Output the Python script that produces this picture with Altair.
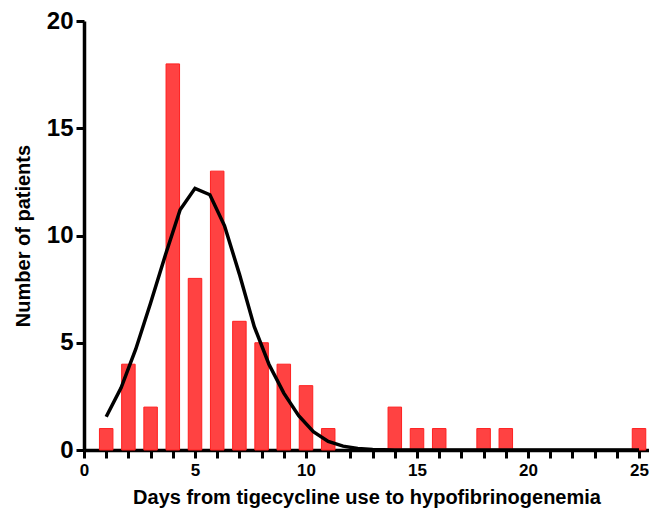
import altair as alt
import pandas as pd

# Histogram bars: days vs number of patients
days = [1, 2, 3, 4, 5, 6, 7, 8, 9, 10, 11, 14, 15, 16, 18, 19, 25]
patients = [1, 4, 2, 18, 8, 13, 6, 5, 4, 3, 1, 2, 1, 1, 1, 1, 1]

# Fitted curve
curve_x = [1, 1.67, 2.33, 3, 3.67, 4.33, 5, 5.67, 6.33, 7, 7.67, 8.33, 9,
           9.67, 10.33, 11, 11.67, 12.33, 13, 14, 15, 17, 19, 21, 23, 25]
curve_y = [1.55, 2.9, 4.7, 6.85, 9.1, 11.2, 12.2, 11.9, 10.45, 8.2, 5.75, 4.0,
           2.65, 1.6, 0.85, 0.4, 0.18, 0.07, 0.02, 0, 0, 0, 0, 0, 0, 0]

x_ticks = list(range(0, 26))
y_ticks = [0, 5, 10, 15, 20]

bars_df = pd.DataFrame({"day": days, "n": patients})
curve_df = pd.DataFrame({"day": curve_x, "n": curve_y})

FONT = "Liberation Sans"

x_enc = alt.X(
    "day:Q",
    scale=alt.Scale(domain=[0, 25.45], nice=False, zero=False, padding=0),
    axis=alt.Axis(
        title="Days from tigecycline use to hypofibrinogenemia",
        values=x_ticks,
        labelExpr="datum.value % 5 == 0 ? datum.label : ''",
        labelFontSize=17,
        labelPadding=4,
        titlePadding=9,
        tickColor="#000000", tickSize=8, tickWidth=3,
    ),
)
y_enc = alt.Y(
    "n:Q",
    scale=alt.Scale(domain=[0, 20], nice=False, padding=0),
    axis=alt.Axis(
        title="Number of patients",
        values=y_ticks,
        labelFontSize=24,
        labelPadding=3,
        titlePadding=13,
        tickColor="#000000", tickSize=8, tickWidth=3,
    ),
)

bars = alt.Chart(bars_df).mark_bar(
    size=13.5, color="#ff4242", stroke="#ff2020", strokeWidth=1
).encode(x=x_enc, y=y_enc)

line = alt.Chart(curve_df).mark_line(
    color="black", strokeWidth=3.5, strokeJoin="miter"
).encode(x=x_enc, y=y_enc)

chart = (
    alt.layer(bars, line)
    .properties(
        width=565,
        height=429,
        autosize=alt.AutoSizeParams(type="none"),
        padding={"left": 76, "top": 13, "right": 0, "bottom": 62},
        background="white",
    )
    .configure_view(stroke=None)
    .configure_axis(
        grid=False,
        domainColor="#000000", domainWidth=3.5,
        labelFont=FONT, labelFontWeight="bold", labelColor="#000000",
        labelFlush=False, labelOverlap=False,
        titleFont=FONT, titleFontSize=20, titleFontWeight="bold",
        titleColor="#000000",
    )
)

chart.save("out.html", embed_options={"renderer": "svg", "actions": False})
